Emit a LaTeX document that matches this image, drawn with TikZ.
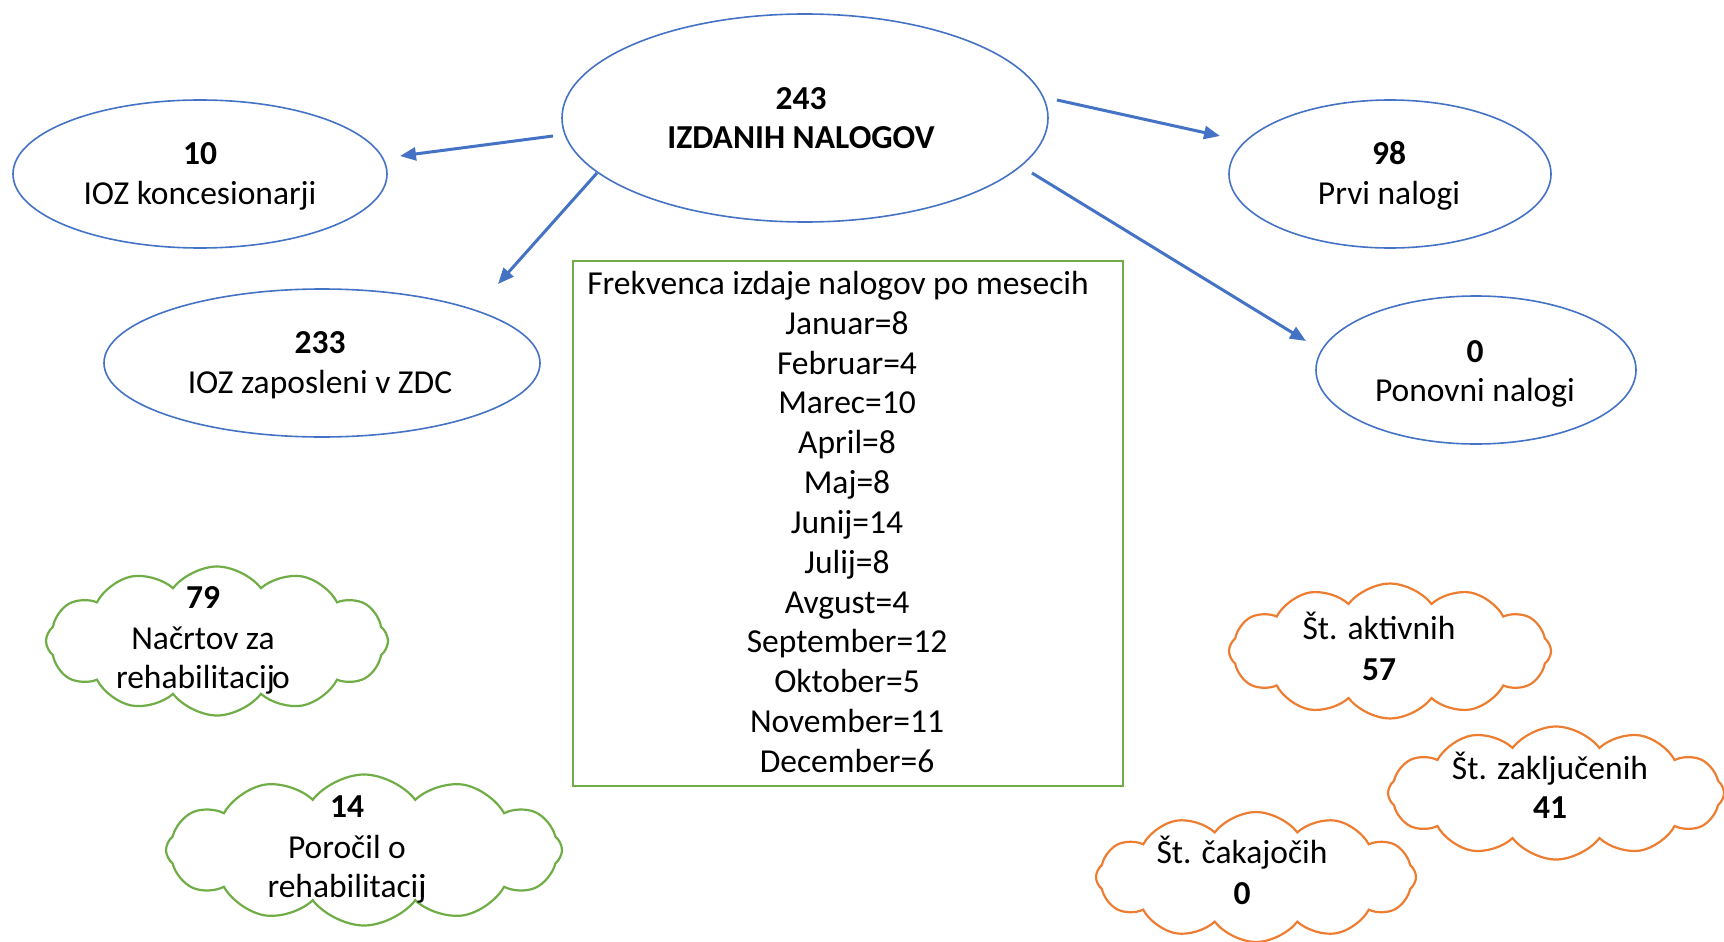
\documentclass[tikz,border=0pt]{standalone}
\usepackage{fontspec}
\setmainfont{Carlito}
\usetikzlibrary{shapes.geometric,shapes.symbols,arrows.meta}
\definecolor{eblue}{HTML}{4472C4}
\definecolor{egreen}{HTML}{70AD47}
\definecolor{eorange}{HTML}{ED7D31}
\begin{document}
\begin{tikzpicture}[x=1pt,y=-1pt,
  oval/.style={ellipse, draw=eblue, line width=1.6pt, inner sep=0pt},
  txt/.style={anchor=base, inner sep=0pt, font=\fontsize{33.5}{40}\selectfont},
  btxt/.style={anchor=base, inner sep=0pt, font=\fontsize{33.5}{40}\selectfont\bfseries},
  arr/.style={draw=eblue, line width=3pt, -{Triangle[length=16pt,width=13pt]}},
  gcloud/.style={cloud, cloud puffs=12, cloud puff arc=105, cloud ignores aspect, draw=egreen, line width=2.2pt, inner sep=0pt},
  ocloud/.style={cloud, cloud puffs=12, cloud puff arc=105, cloud ignores aspect, draw=eorange, line width=2.2pt, inner sep=0pt}
]
\useasboundingbox (0,0) rectangle (1724,942);

% ellipses
\node[oval, minimum width=486pt, minimum height=208pt] (big) at (805,118) {};
\node[oval, minimum width=374pt, minimum height=148pt] (konc) at (200,174) {};
\node[oval, minimum width=436pt, minimum height=148pt] (zap) at (322,363) {};
\node[oval, minimum width=322pt, minimum height=148pt] (prvi) at (1390,174) {};
\node[oval, minimum width=320pt, minimum height=148pt] (pon) at (1476,370) {};

\node[btxt] (bigA) at (801,109) {243};
\node[btxt] (bigB) at (801,148) {IZDANIH NALOGOV};
\node[btxt] (koncA) at (200,164) {10};
\node[txt] (koncB) at (200,204) {IOZ koncesionarji};
\node[btxt] (zapA) at (320,353) {233};
\node[txt] (zapB) at (320,393) {IOZ zaposleni v ZDC};
\node[btxt] (prviA) at (1389,164) {98};
\node[txt] (prviB) at (1389,204) {Prvi nalogi};
\node[btxt] (ponA) at (1475,362) {0};
\node[txt] (ponB) at (1475,401) {Ponovni nalogi};

% arrows
\draw[arr] ([shift={(-252,18)}]big.center) -- ([shift={(200,-18)}]konc.center);
\draw[arr] ([shift={(-208,55)}]big.center) -- ([shift={(176,-79)}]zap.center);
\draw[arr] ([shift={(252,-18)}]big.center) -- ([shift={(-170,-38)}]prvi.center);
\draw[arr] ([shift={(227,55)}]big.center) -- ([shift={(-170,-29)}]pon.center);

% frequency box
\node[draw=egreen, line width=1.6pt, minimum width=550pt, minimum height=525pt, inner sep=0pt] (freqbox) at (848,523.5) {};
\node[txt] (f0) at (838,294) {Frekvenca izdaje nalogov po mesecih};
\node[txt] (f1) at (847,334) {Januar=8};
\node[txt] (f2) at (847,374) {Februar=4};
\node[txt] (f3) at (847,413) {Marec=10};
\node[txt] (f4) at (847,453) {April=8};
\node[txt] (f5) at (847,493) {Maj=8};
\node[txt] (f6) at (847,533) {Junij=14};
\node[txt] (f7) at (847,573) {Julij=8};
\node[txt] (f8) at (847,613) {Avgust=4};
\node[txt] (f9) at (847,652) {September=12};
\node[txt] (f10) at (847,692) {Oktober=5};
\node[txt] (f11) at (847,732) {November=11};
\node[txt] (f12) at (847,772) {December=6};

% green clouds
\node[gcloud, minimum width=342pt, minimum height=149pt] (c1) at (217,641) {};
\node[btxt] (c1a) at (203,608) {79};
\node[txt] (c1b) at (203,649) {Načrtov za};
\node[txt] (c1c) at (203,688) {rehabilitacij\kern-0.08em o};

\node[gcloud, minimum width=396pt, minimum height=151pt] (c2) at (364,850) {};
\node[btxt] (c2a) at (347,817) {14};
\node[txt] (c2b) at (347,858) {Poročil o};
\node[txt] (c2c) at (347,897) {rehabilitacij\llap{i}};

% orange clouds
\node[ocloud, minimum width=322pt, minimum height=135pt] (c3) at (1390,651) {};
\node[txt] (c3a) at (1379,639) {Št. aktivnih};
\node[btxt] (c3b) at (1379,680) {57};

\node[ocloud, minimum width=336pt, minimum height=133pt] (c4) at (1556,793) {};
\node[txt] (c4a) at (1550,779) {Št. zaključenih};
\node[btxt] (c4b) at (1550,818) {41};

\node[ocloud, minimum width=320pt, minimum height=130pt] (c5) at (1256,877) {};
\node[txt] (c5a) at (1242,863) {Št. čakajočih};
\node[btxt] (c5b) at (1242,904) {0};
\end{tikzpicture}
\end{document}
